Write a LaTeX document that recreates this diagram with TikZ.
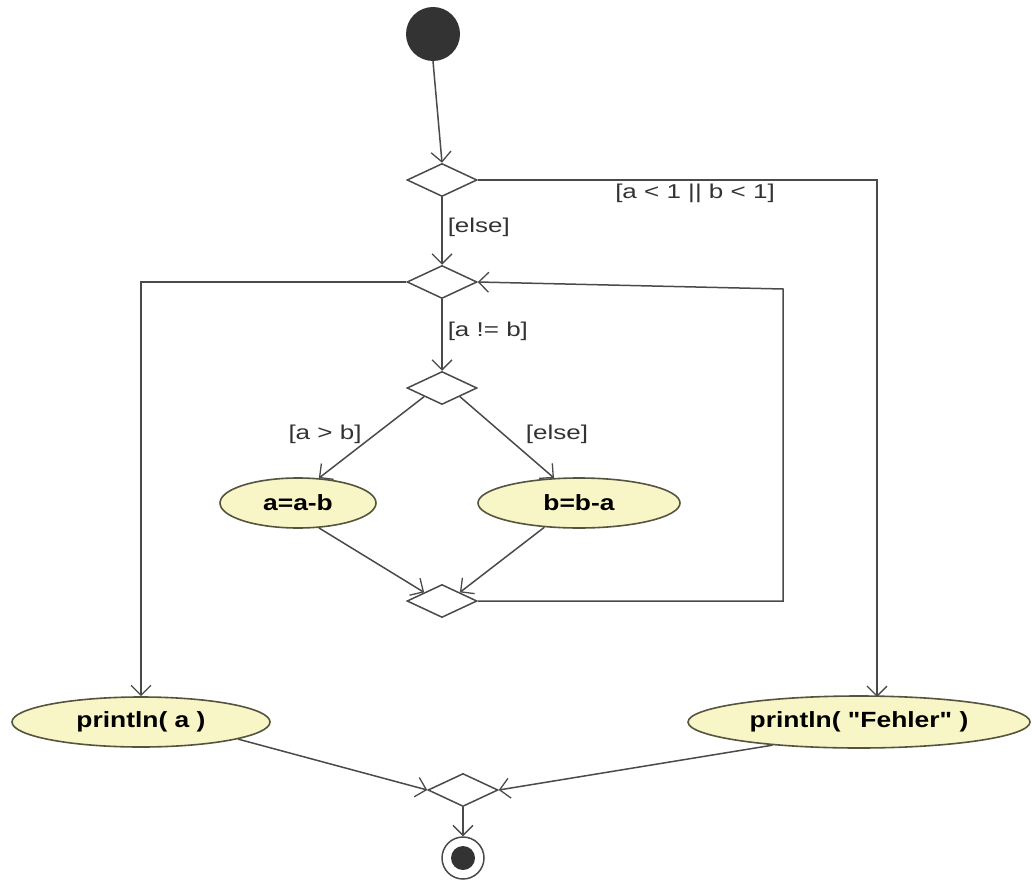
\documentclass[tikz,border=0pt]{standalone}
\usepackage{fontspec}
\setmainfont{Liberation Sans}
\newfontfamily\lblfont[FakeStretch=1.3]{Liberation Sans}
\newfontfamily\actfont[FakeStretch=1.2]{Liberation Sans Bold}
\usetikzlibrary{shapes.geometric,arrows.meta,calc}
\definecolor{linec}{HTML}{4A4A4A}
\definecolor{actfill}{HTML}{F8F5C6}
\definecolor{actline}{HTML}{55553F}
\definecolor{dotc}{HTML}{333333}
\tikzset{
  conn/.style={draw=linec, line width=1.5pt},
  arr/.style={conn, -{Straight Barb[length=10pt,width=20pt,line width=1.3pt]}},
  decision/.style={diamond, draw=linec, line width=1.5pt, fill=white, minimum width=70pt, minimum height=33pt, inner sep=0pt, aspect=2},
  activity/.style={ellipse, draw=actline, line width=1.6pt, fill=actfill, inner sep=0pt, font=\actfont\fontsize{22}{24}\selectfont},
  guard/.style={font=\lblfont\fontsize{20}{24}\selectfont, text=dotc, inner sep=1pt}
}
\begin{document}
\begin{tikzpicture}[x=1pt,y=-1pt]
\useasboundingbox (0,0) rectangle (1032,885);
% nodes
\node[circle, fill=dotc, minimum size=54pt, inner sep=0pt] (start) at (433,34) {};
\node[decision] (d1) at (442,180) {};
\node[decision] (d2) at (442,282) {};
\node[decision] (d3) at (442,388) {};
\node[decision] (d4) at (442,601) {};
\node[decision] (d5) at (463,790) {};
\node[activity, minimum width=156pt, minimum height=50pt] (aab) at (298,503) {a=a-b};
\node[activity, minimum width=202pt, minimum height=50pt] (bba) at (579,503) {b=b-a};
\node[activity, minimum width=258pt, minimum height=50pt] (pa) at (141,722) {println( a )};
\node[activity, minimum width=342pt, minimum height=52pt] (pf) at (859,722) {println( "Fehler" )};
\node[circle, draw=linec, line width=1.5pt, fill=white, minimum size=42pt, inner sep=0pt] (end) at (463,858) {};
\node[circle, fill=dotc, minimum size=24pt, inner sep=0pt] at (end) {};
\coordinate (lp) at (783,289);
\coordinate (fx) at (877,697);
% connectors
\draw[arr] (start.south) -- (d1.north);
\draw[arr] (d1.south) -- node[guard, right=4pt, pos=0.45] {[else]} (d2.north);
\draw[arr] (d1.east) -| (fx);
\node[guard] at (695,193) {[a < 1 || b < 1]};
\draw[arr] (d2.west) -| (pa.north);
\draw[arr] (d2.south) -- node[guard, right=4pt, pos=0.45] {[a != b]} (d3.north);
\draw[arr] (d3.south west) -- (aab.50);
\node[guard] at (325,434) {[a > b]};
\draw[arr] (d3.south east) -- (bba.135);
\node[guard] at (557,434) {[else]};
\draw[arr] (aab.-50) -- (d4.north west);
\draw[arr] (bba.-145) -- (d4.north east);
\draw[arr] (d4.east) -| (lp) -- (d2.east);
\draw[arr] (pa.-10) -- (d5.west);
\draw[arr] (pf.-165) -- (d5.east);
\draw[arr] (d5.south) -- (end.north);
\end{tikzpicture}
\end{document}
